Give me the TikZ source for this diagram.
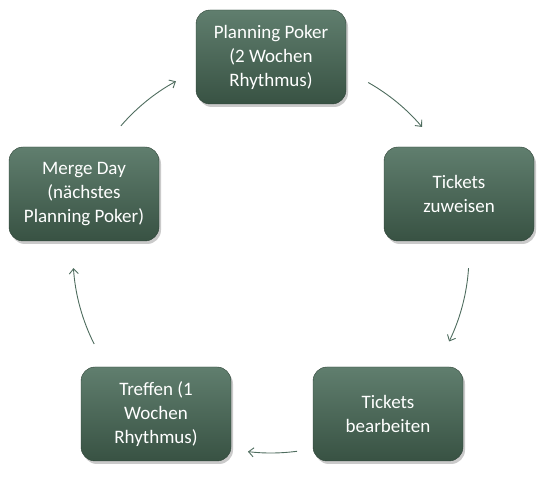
\documentclass[tikz,border=0pt]{standalone}
\usepackage{fontspec}
\setmainfont{Carlito}
\usetikzlibrary{arrows.meta,shadows}
\definecolor{boxtop}{RGB}{96,126,110}
\definecolor{boxbot}{RGB}{56,82,67}
\definecolor{arr}{RGB}{78,108,94}
\tikzset{
  stagebox/.style={rounded corners=14pt, minimum width=150pt, minimum height=94pt,
    top color=boxtop, bottom color=boxbot, draw=boxbot!80!black, line width=0.4pt,
    text=white, align=center, font=\fontsize{19}{24}\selectfont,
    drop shadow={shadow xshift=2pt, shadow yshift=-3pt, opacity=0.35, fill=black!60}},
  cyc/.style={draw=arr, line width=0.9pt, -{Straight Barb[length=5pt,width=9pt]}}
}
\begin{document}
\begin{tikzpicture}[x=1pt,y=-1pt]
\useasboundingbox (0,0) rectangle (558,494);
\coordinate (c) at (271,255);
\node[stagebox] (top) at (271,57) {Planning Poker\\(2 Wochen\\Rhythmus)};
\node[stagebox] (right) at (459,194) {Tickets\\zuweisen};
\node[stagebox] (br) at (388,414) {Tickets\\bearbeiten};
\node[stagebox] (bl) at (156,414) {Treffen (1\\Wochen\\Rhythmus)};
\node[stagebox] (left) at (84,194) {Merge Day\\(nächstes\\Planning Poker)};
\begin{scope}[y=1pt]
\draw[cyc] ([shift={(60.6:198)}]c) arc[start angle=60.6, end angle=40.3, radius=198];
\draw[cyc] ([shift={(-3.8:198)}]c) arc[start angle=-3.8, end angle=-25.9, radius=198];
\draw[cyc] ([shift={(-82.4:198)}]c) arc[start angle=-82.4, end angle=-96.7, radius=198];
\draw[cyc] ([shift={(-153.3:198)}]c) arc[start angle=-153.3, end angle=-176.2, radius=198];
\draw[cyc] ([shift={(139.3:198)}]c) arc[start angle=139.3, end angle=118.7, radius=198];
\end{scope}
\end{tikzpicture}
\end{document}
